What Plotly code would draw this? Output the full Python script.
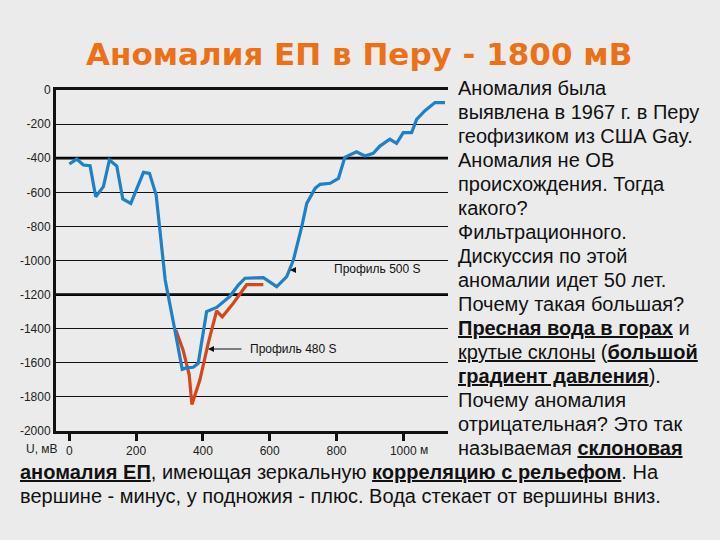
import plotly.graph_objects as go

# ---- data ----
blue_x = [0, 22, 42, 62, 79, 102, 120, 142, 160, 184, 222, 240, 260, 277, 287, 316, 338,
          350, 371, 386, 411, 441, 481, 506, 526, 581, 621, 651, 671, 696, 711, 736, 751,
          781, 806, 825, 860, 885, 910, 930, 960, 980, 1000, 1025, 1040, 1065, 1095, 1125]
blue_y = [-434, -405, -440, -444, -626, -567, -410, -446, -639, -665, -483, -489, -616, -938,
          -1114, -1408, -1638, -1630, -1626, -1603, -1300, -1275, -1210, -1144, -1104, -1100,
          -1153, -1095, -997, -801, -665, -577, -553, -547, -518, -395, -362, -387, -371,
          -329, -289, -313, -250, -250, -172, -121, -74, -74]

red_x = [319, 341, 359, 367, 391, 416, 441, 458, 491, 531, 581]
red_y = [-1408, -1528, -1670, -1845, -1700, -1485, -1295, -1330, -1251, -1142, -1142]

x_ticks = [0, 200, 400, 600, 800, 1000]
y_ticks = list(range(-2000, 1, 200))
thick_grid = [-400, -1200]

title_text = "Аномалия ЕП в Перу - 1800 мВ"
side_lines = [
    "Аномалия была",
    "выявлена в 1967 г. в Перу",
    "геофизиком из США Gay.",
    "Аномалия не ОВ",
    "происхождения. Тогда",
    "какого?",
    "Фильтрационного.",
    "Дискуссия по этой",
    "аномалии идет 50 лет.",
    "Почему такая большая?",
    "<b><u>Пресная вода в горах</u></b> и",
    "<u>крутые склоны</u> (<b><u>большой</u></b>",
    "<b><u>градиент давления</u></b>).",
    "Почему аномалия",
    "отрицательная? Это так",
    "называемая <b><u>склоновая</u></b>",
]
bottom_lines = [
    "<b><u>аномалия ЕП</u></b>, имеющая зеркальную <b><u>корреляцию с рельефом</u></b>. На",
    "вершине - минус, у подножия - плюс. Вода стекает от вершины вниз.",
]

# ---- layout geometry (pixels) ----
W, H = 720, 540
L, R, T, B = 56, 448, 90, 431
PW, PH = R - L, B - T
FONT = "Arial, Liberation Sans, sans-serif"


def px(x, y):
    return (x - L) / PW, (B - y) / PH


fig = go.Figure()
fig.add_trace(go.Scatter(x=red_x, y=red_y, mode="lines",
                         line=dict(color="#D5461B", width=3.2), showlegend=False))
fig.add_trace(go.Scatter(x=blue_x, y=blue_y, mode="lines",
                         line=dict(color="#1F80C6", width=3.2), showlegend=False))

shapes = []
for v in thick_grid:
    shapes.append(dict(type="line", xref="paper", yref="y", x0=0, x1=1, y0=v, y1=v,
                       line=dict(color="black", width=2.8), layer="below"))

ann = []
tx, ty = px(359, 54)
ann.append(dict(text="<b>" + title_text + "</b>", x=tx, y=ty, xref="paper", yref="paper",
                showarrow=False, xanchor="center", yanchor="middle",
                font=dict(family="DejaVu Sans, Arial, sans-serif", size=31, color="#EC7116")))
for i, s in enumerate(side_lines):
    ax_, ay_ = px(456, 88 + 24 * i)
    ann.append(dict(text=s, x=ax_, y=ay_, xref="paper", yref="paper", showarrow=False,
                    xanchor="left", yanchor="middle",
                    font=dict(family=FONT, size=20, color="#111111")))
bottom_sizes = [20, 20]
for i, s in enumerate(bottom_lines):
    ax_, ay_ = px(18, 472 + 24 * i)
    ann.append(dict(text=s, x=ax_, y=ay_, xref="paper", yref="paper", showarrow=False,
                    xanchor="left", yanchor="middle",
                    font=dict(family=FONT, size=bottom_sizes[i], color="#111111")))

# axis unit labels
ux, uy = px(42, 449)
ann.append(dict(text="U, мВ", x=ux, y=uy, xref="paper", yref="paper", showarrow=False,
                xanchor="center", yanchor="middle", font=dict(family=FONT, size=12, color="#222")))
mx, my = px(424, 450)
ann.append(dict(text="м", x=mx, y=my, xref="paper", yref="paper", showarrow=False,
                xanchor="center", yanchor="middle", font=dict(family=FONT, size=12, color="#222")))

# profile labels
p1x, p1y = px(332, 269)
ann.append(dict(text="Профиль 500 S", x=p1x, y=p1y, xref="paper", yref="paper",
                showarrow=False, xanchor="left", yanchor="middle",
                font=dict(family=FONT, size=12, color="#111")))
a1x, a1y = px(290, 270)
ann.append(dict(text="", x=a1x, y=a1y, xref="paper", yref="paper", showarrow=True,
                ax=6, ay=0, arrowhead=2, arrowsize=1, arrowwidth=1.2, arrowcolor="#111",
                standoff=0))
p2x, p2y = px(248, 349)
ann.append(dict(text="Профиль 480 S", x=p2x, y=p2y, xref="paper", yref="paper",
                showarrow=False, xanchor="left", yanchor="middle",
                font=dict(family=FONT, size=12, color="#111")))
a2x, a2y = px(208, 349)
ann.append(dict(text="", x=a2x, y=a2y, xref="paper", yref="paper", showarrow=True,
                ax=35, ay=0, arrowhead=2, arrowsize=1, arrowwidth=1.2, arrowcolor="#111",
                standoff=0))

fig.update_layout(
    width=W, height=H,
    margin=dict(l=L, r=W - R, t=T, b=H - B, pad=0),
    paper_bgcolor="#EBEBEB", plot_bgcolor="#EBEBEB",
    font=dict(family=FONT, size=12, color="#222"),
    shapes=shapes, annotations=ann, showlegend=False,
    xaxis=dict(range=[-40, 1134], tickvals=x_ticks, ticktext=[str(v) for v in x_ticks],
               showgrid=False, zeroline=False, showline=True, linecolor="#111",
               linewidth=3, mirror=True, ticks="outside", ticklen=7, tickwidth=3,
               tickcolor="#111", tickfont=dict(size=12, color="#222")),
    yaxis=dict(range=[-2000, 0], tickvals=y_ticks, ticktext=[str(v) for v in y_ticks],
               showgrid=True, gridcolor="#111", gridwidth=1.2, zeroline=False,
               showline=True, linecolor="#111", linewidth=3, mirror=False, ticks="",
               tickfont=dict(size=12, color="#222")),
)

fig.write_html("out.html")
